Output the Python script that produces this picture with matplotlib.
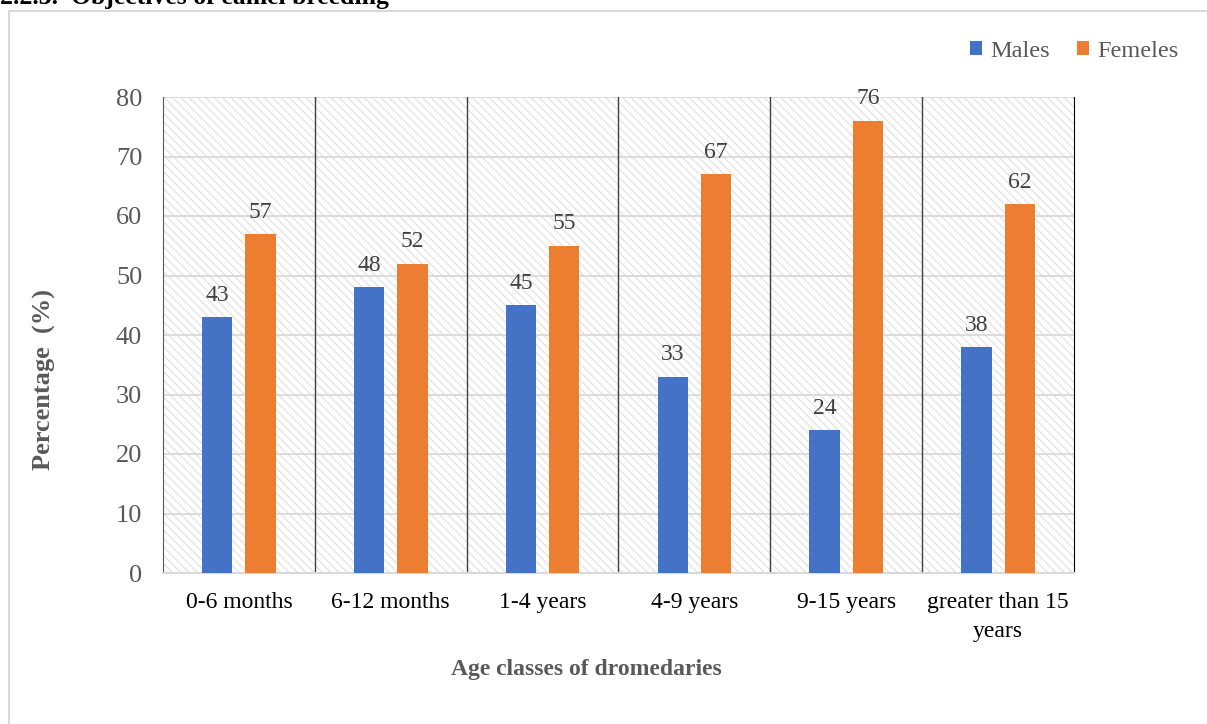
import matplotlib.pyplot as plt
import matplotlib.patches as mpatches
import numpy as np

categories = ["0-6 months", "6-12 months", "1-4 years", "4-9 years", "9-15 years", "greater than 15\nyears"]
males = [43, 48, 45, 33, 24, 38]
females = [57, 52, 55, 67, 76, 62]

plt.rcParams['font.family'] = ['Liberation Serif', 'DejaVu Serif']
plt.rcParams['hatch.color'] = '#e2e2e2'
plt.rcParams['hatch.linewidth'] = 0.9

W, H = 1207, 724
fig = plt.figure(figsize=(W / 100, H / 100), dpi=100)

# outer frame of the chart
frame = mpatches.Rectangle((9 / W, -0.1), 1.1, 1 - 11 / H + 0.1, transform=fig.transFigure,
                           fill=False, edgecolor='#d9d9d9', linewidth=1.5)
fig.patches.append(frame)

# section heading partly above the page
fig.text(0, 1 - 4 / H, "2.2.3.  Objectives of camel breeding", fontsize=18.5,
         fontweight='bold', ha='left', va='baseline', color='black')

ax = fig.add_axes([163 / W, 1 - 573 / H, (1074 - 163) / W, (573 - 97) / H])

# hatched plot background
bg = mpatches.Rectangle((0, 0), 1, 1, transform=ax.transAxes, facecolor='white',
                        hatch='\\\\\\\\', edgecolor='#e2e2e2', linewidth=0, zorder=0)
ax.add_patch(bg)
ax.set_facecolor('white')

x = np.arange(len(categories))
bw = 0.2
gap = 0.086
off = (bw + gap) / 2
b1 = ax.bar(x - off, males, bw, color='#4472C4', label='Males', zorder=3)
b2 = ax.bar(x + off, females, bw, color='#ED7D31', label='Femeles', zorder=3)

for bars, vals in ((b1, males), (b2, females)):
    for rect, v in zip(bars, vals):
        ax.text(rect.get_x() + rect.get_width() / 2, v + 1.9, f"{v}", ha='center', va='bottom',
                fontsize=17, color='#404040', zorder=4)

ax.set_xlim(-0.5, len(categories) - 0.5)
ax.set_ylim(0, 80)
ax.set_yticks(range(0, 81, 10))
ax.yaxis.grid(True, color='#d9d9d9', linewidth=1.3, zorder=1)
ax.set_axisbelow(True)

for sep in np.arange(0.5, len(categories) - 0.5, 1):
    ax.axvline(sep, color='#404040', linewidth=1.0, zorder=2)

ax.spines['top'].set_visible(False)
ax.spines['left'].set_color('#595959')
ax.spines['right'].set_color('#000000')
ax.spines['bottom'].set_color('#d9d9d9')
ax.spines['bottom'].set_linewidth(1.5)

ax.set_xticks(x)
ax.set_xticklabels(categories, fontsize=17, color='black', linespacing=1.45)
ax.tick_params(axis='x', length=0, pad=14)
ax.tick_params(axis='y', length=0, pad=15, labelsize=19, labelcolor='#595959')

fig.text(44 / W, 1 - 380 / H, "Percentage  (%)", rotation=90, ha='center', va='center',
         fontsize=19, fontweight='bold', color='#595959')
fig.text(586 / W, 1 - 669 / H, "Age classes of dromedaries", ha='center', va='center',
         fontsize=17, fontweight='bold', color='#595959')

ax.legend(loc='upper right', bbox_to_anchor=(1196 / W, 1 - 24 / H), bbox_transform=fig.transFigure,
          ncol=2, frameon=False, fontsize=17.5, handlelength=0.5, handleheight=0.5,
          columnspacing=1.1, handletextpad=0.35, labelcolor='#595959', borderpad=0.2)

fig.savefig("out.png", dpi=100)
